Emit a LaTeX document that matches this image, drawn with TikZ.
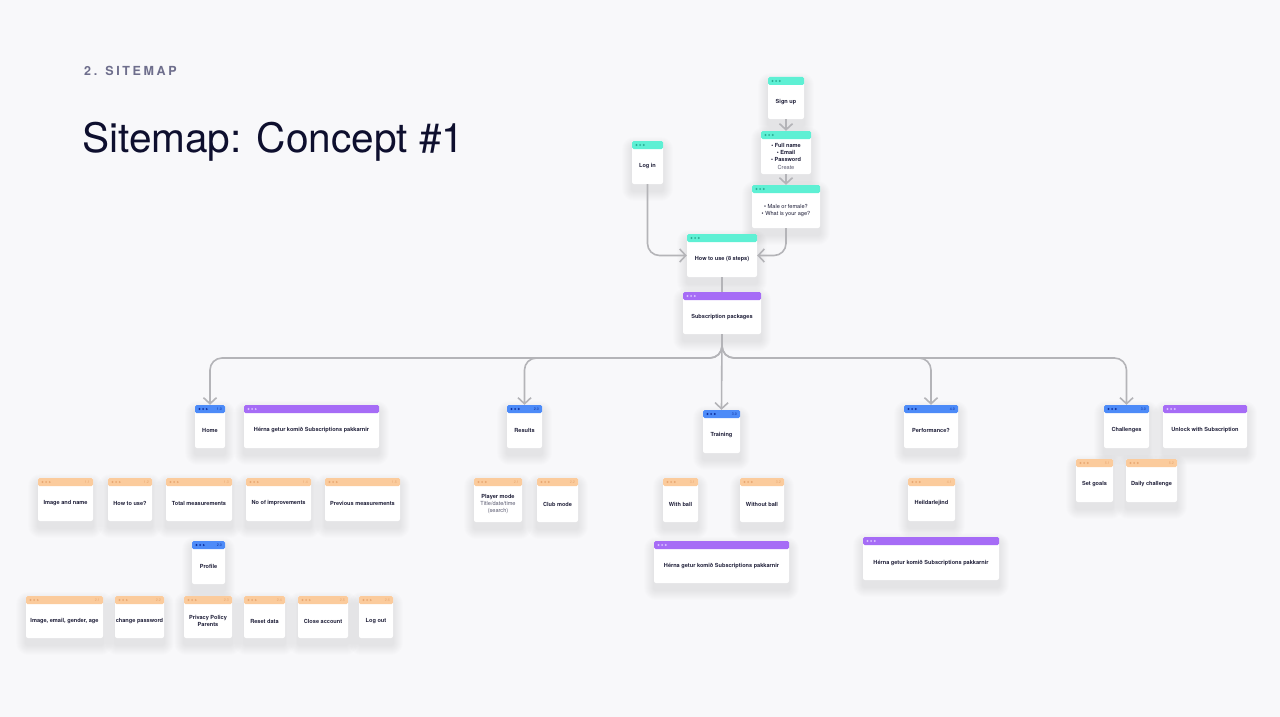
\documentclass[tikz,border=0pt]{standalone}
\usepackage{fontspec}
\setmainfont{TeX Gyre Heros}
\usetikzlibrary{arrows.meta,calc}
\definecolor{bg}{HTML}{F8F8FA}
\definecolor{tealH}{HTML}{5EF0D4}\definecolor{tealD}{HTML}{2BAF95}
\definecolor{blueH}{HTML}{4D8BF8}\definecolor{blueD}{HTML}{0F2F9E}
\definecolor{purpH}{HTML}{A66CF6}\definecolor{purpD}{HTML}{D9C2FF}
\definecolor{orngH}{HTML}{FBCB9C}\definecolor{orngD}{HTML}{E9A872}
\definecolor{ink}{HTML}{1E1E38}
\definecolor{soft}{HTML}{5A5A70}
\definecolor{kick}{HTML}{6E6E8C}
\definecolor{navy}{HTML}{0E0F2E}
\definecolor{connc}{HTML}{B4B4B8}
\definecolor{shade}{HTML}{30304A}
\tikzset{
  cardbody/.style={draw=none, fill=white, rounded corners=2pt, inner sep=0pt},
  cardtext/.style={font=\fontsize{5.6}{7}\selectfont\bfseries, text=ink, align=center, inner sep=0pt},
  numtext/.style={font=\fontsize{3.6}{4}\selectfont, anchor=east, inner sep=0pt},
  connector/.style={draw=connc, line width=1.6pt, rounded corners=12pt},
  arr/.style={-{Straight Barb[length=6pt,width=13pt]}},
  shadowlayer/.style={fill=shade, opacity=0.008}
}
\newcommand{\sitecard}[8]{%
  \foreach \s in {1,...,10} \fill[shadowlayer, rounded corners={(2+\s)*1pt}] (#2-\s*1.0, #3+6-\s*1.0) rectangle (#4+\s*1.0, #5+7+\s*1.0);
  \node[cardbody, minimum width={(#4-#2)*1pt}, minimum height={(#5-#3)*1pt}] (#1) at ({(#2+#4)/2},{(#3+#5)/2}) {};
  \fill[#6H, rounded corners=1.5pt] (#2,#3) rectangle (#4,#3+8);
  \foreach \k in {0,1,2} \fill[#6D] (#2+4.5+\k*3.6, #3+4) circle (1.05pt);
  \node[numtext, text=#6D] (#1n) at (#4-3, #3+4) {#7};
  \node[cardtext] (#1t) at ({(#2+#4)/2},{(#3+8+#5)/2}) {#8};
}
\begin{document}
\begin{tikzpicture}[x=1pt,y=-1pt]
\fill[bg] (0,0) rectangle (1280,717);
\useasboundingbox (0,0) rectangle (1280,717);

\node[anchor=base west, inner sep=0pt, text=kick, font=\fontsize{12.5}{14}\selectfont\bfseries] (kicker) at (84,76) {\addfontfeatures{LetterSpace=21}2. SITEMAP};
\node[anchor=base west, inner sep=0pt, text=navy, font=\fontsize{40.6}{44}\selectfont] (title) at (82,152) {Sitemap: Concept \#1};

% top flow
\sitecard{signup}{768}{77}{804}{119}{teal}{}{Sign up}
\sitecard{fullname}{761}{131}{811}{174}{teal}{}{\textbullet\ Full name\\\textbullet\ Email\\\textbullet\ Password\\[1pt]{\mdseries\color{soft}Create}}
\sitecard{gender}{752}{185}{820}{228}{teal}{}{\mdseries\textbullet\ Male or female?\\\mdseries\textbullet\ What is your age?}
\sitecard{login}{632}{141}{663}{184}{teal}{}{Log in}
\sitecard{howto}{687}{234}{757}{277}{teal}{}{How to use (8 steps)}
\sitecard{subs}{683}{292}{761}{334}{purp}{}{Subscription packages}

% second level
\sitecard{home}{195}{405}{225}{448}{blue}{1.0}{Home}
\sitecard{homesub}{244}{405}{379}{448}{purp}{}{Hérna getur komið Subscriptions pakkarnir}
\sitecard{results}{507}{405}{542}{448}{blue}{2.0}{Results}
\sitecard{training}{703}{410}{740}{453}{blue}{3.0}{Training}
\sitecard{perf}{904}{405}{958}{448}{blue}{4.0}{Performance?}
\sitecard{chall}{1104}{405}{1149}{448}{blue}{3.0}{Challenges}
\sitecard{unlock}{1163}{405}{1247}{448}{purp}{}{Unlock with Subscription}

% home children
\sitecard{imgname}{38}{478}{93}{521}{orng}{1.1}{Image and name}
\sitecard{howtouse}{108}{478}{152}{521}{orng}{1.2}{How to use?}
\sitecard{total}{166}{478}{232}{521}{orng}{1.3}{Total measurements}
\sitecard{noimp}{246}{478}{311}{521}{orng}{1.4}{No of improvements}
\sitecard{prev}{325}{478}{400}{521}{orng}{1.5}{Previous measurements}

% profile
\sitecard{profile}{192}{541}{225}{584}{blue}{2.0}{Profile}
\sitecard{pimg}{26}{596}{103}{638}{orng}{2.1}{Image, email, gender, age}
\sitecard{pchange}{115}{596}{164}{638}{orng}{2.2}{change password}
\sitecard{privacy}{184}{596}{232}{638}{orng}{2.3}{Privacy Policy\\Parents}
\sitecard{reset}{244}{596}{285}{638}{orng}{2.4}{Reset data}
\sitecard{close}{298}{596}{348}{638}{orng}{2.5}{Close account}
\sitecard{logout}{359}{596}{393}{638}{orng}{2.6}{Log out}

% results children
\sitecard{player}{474}{478}{522}{522}{orng}{2.1}{Player mode\\{\mdseries\color{soft}Title/date/time}\\{\mdseries\color{soft}(search)}}
\sitecard{club}{537}{478}{578}{522}{orng}{2.2}{Club mode}

% training children
\sitecard{withball}{663}{478}{698}{522}{orng}{3.1}{With ball}
\sitecard{without}{740}{478}{784}{522}{orng}{3.2}{Without ball}
\sitecard{trainsub}{654}{541}{789}{583}{purp}{}{Hérna getur komið Subscriptions pakkarnir}

% performance children
\sitecard{heild}{908}{478}{955}{521}{orng}{4.1}{Heildarlejind}
\sitecard{perfsub}{863}{537}{999}{580}{purp}{}{Hérna getur komið Subscriptions pakkarnir}

% challenges children
\sitecard{setgoals}{1076}{459}{1113}{502}{orng}{5.1}{Set goals}
\sitecard{daily}{1126}{459}{1177}{502}{orng}{5.2}{Daily challenge}

% connectors
\coordinate (bus) at (721,358);
\draw[connector, arr] (signup.south) -- (fullname.north);
\draw[connector, arr] (fullname.south) -- (gender.north);
\draw[connector, arr] (login.south) |- (howto.west);
\draw[connector, arr] (gender.south) |- (howto.east);
\draw[connector] (howto.south) -- (subs.north);
\draw[connector, arr] (subs.south) -- (training.north);
\draw[connector, arr] (subs.south) |- (bus -| home.north) -- (home.north);
\draw[connector, arr] (subs.south) |- (bus -| results.north) -- (results.north);
\draw[connector, arr] (subs.south) |- (bus -| perf.north) -- (perf.north);
\draw[connector, arr] (subs.south) |- (bus -| chall.north) -- (chall.north);
\end{tikzpicture}
\end{document}
